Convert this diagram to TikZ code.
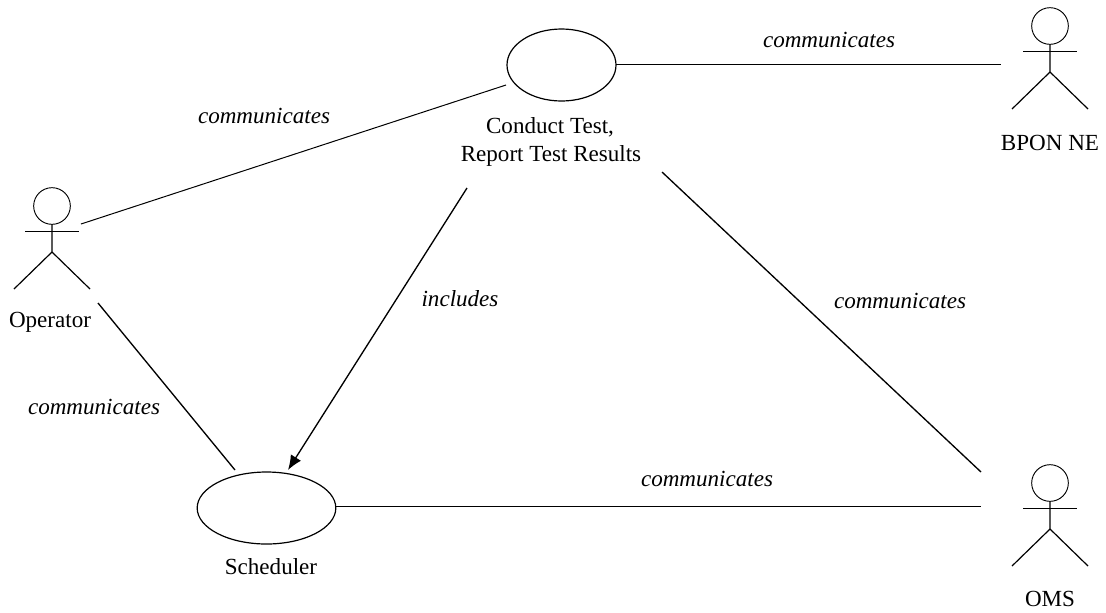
\documentclass[tikz,border=0pt]{standalone}
\usepackage{fontspec}
\setmainfont{Liberation Serif}
\usetikzlibrary{shapes.geometric,arrows.meta}
\tikzset{
  x=0.75pt,y=-0.75pt,
  usecase/.style={draw,ellipse,line width=0.9pt,inner sep=0pt,minimum width=#1},
  lbl/.style={font=\fontsize{17.3}{21}\selectfont,inner sep=0pt,align=center,anchor=base},
  ilbl/.style={font=\fontsize{17.3}{21}\selectfont\itshape,inner sep=0pt,align=center,anchor=base},
  conn/.style={draw,line width=1pt},
  thinconn/.style={draw,line width=0.75pt},
  head/.style={draw,circle,line width=0.7pt,inner sep=0pt,minimum size=27.5pt},
  actor/.pic={
    \node[head] (-head) at (0,-25) {};
    \draw[line width=0.7pt] (-27,0) -- (27,0);
    \draw[line width=0.9pt] (-head.south) -- (0,21) -- (-38,58);
    \draw[line width=0.9pt] (0,21) -- (38,58);
  }
}
\begin{document}
\begin{tikzpicture}
\useasboundingbox (0,0) rectangle (1106,612);
\node[usecase=81.75pt,minimum height=54pt] (ct) at (561.5,65) {};
\node[usecase=104pt,minimum height=54pt] (sch) at (266.5,508) {};
\pic (op) at (52,231) {actor};
\pic (bp) at (1050,51) {actor};
\pic (om) at (1050,508) {actor};
\node[lbl] (opl) at (50,327) {Operator};
\node[lbl] (bpl) at (1050,150) {BPON NE};
\node[lbl] (oml) at (1050,606) {OMS};
\node[lbl] (ctl1) at (550,133) {Conduct Test,};
\node[lbl] (ctl2) at (551,161) {Report Test Results};
\node[lbl] (schl) at (271,574) {Scheduler};
\coordinate (a1) at (81,224);
\coordinate (a2) at (506,85);
\coordinate (b1) at (616,64);
\coordinate (b2) at (1001,64);
\coordinate (c1) at (98,303);
\coordinate (c2) at (235,470);
\coordinate (d1) at (467,188);
\coordinate (d2) at (288,470);
\coordinate (e1) at (662,172);
\coordinate (e2) at (981,472);
\coordinate (f1) at (336,506);
\coordinate (f2) at (981,506);
\draw[thinconn] (a1) -- (a2);
\draw[thinconn] (b1) -- (b2);
\draw[conn] (c1) -- (c2);
\draw[conn,-{Latex[length=11pt,width=9pt]}] (d1) -- (d2);
\draw[conn] (e1) -- (e2);
\draw[thinconn] (f1) -- (f2);
\node[ilbl] (t1) at (264,123) {communicates};
\node[ilbl] (t2) at (829,47) {communicates};
\node[ilbl] (t3) at (900,308) {communicates};
\node[ilbl] (t4) at (94,414) {communicates};
\node[ilbl] (t5) at (460,306) {includes};
\node[ilbl] (t6) at (707,486) {communicates};
\end{tikzpicture}
\end{document}
